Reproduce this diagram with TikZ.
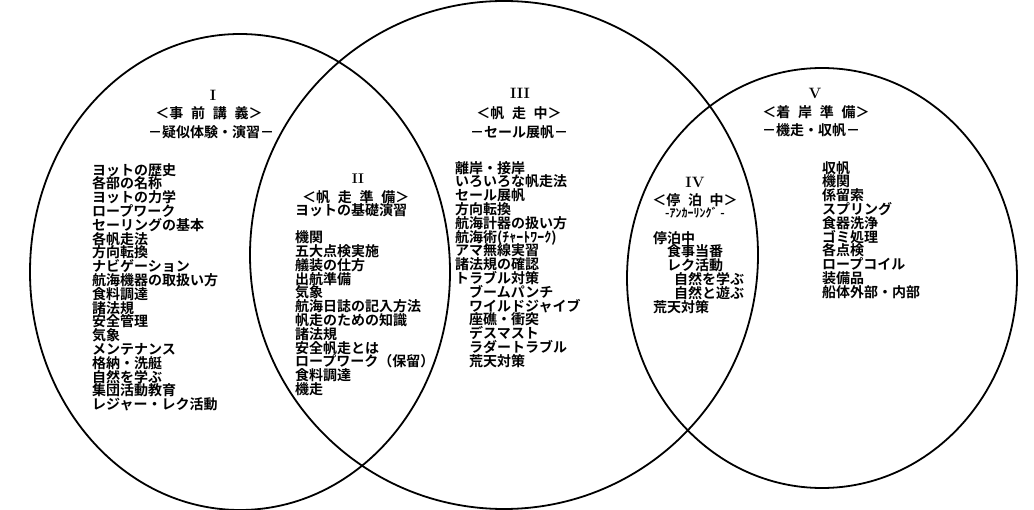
\documentclass[tikz,border=0pt]{standalone}
\usepackage{fontspec}
\newfontfamily\jpfont{Noto Sans CJK JP Bold}
\newcommand{\mylistfont}{\jpfont\fontsize{14}{13.8}\selectfont\lineskiplimit=-20pt\lineskip=0pt}
\newcommand{\myheadfont}{\jpfont\fontsize{14}{14}\selectfont}
\newcommand{\mysmallfont}{\jpfont\fontsize{12}{12}\selectfont}
\newcommand{\gap}{\hspace{0.55em}}
\begin{document}
\begin{tikzpicture}[x=1pt,y=-1pt,
  ring/.style={draw=black,line width=1.8pt},
  lst/.style={anchor=north west,inner sep=0pt,align=left,font=\mylistfont},
  hd/.style={inner sep=0pt,font=\myheadfont},
  sm/.style={inner sep=0pt,font=\mysmallfont},
  num/.style={inner sep=0pt,font=\fontsize{15}{15}\selectfont\bfseries}]
\useasboundingbox (0,0) rectangle (1034,510);
\fill[white] (0,0) rectangle (1034,510);
% circles
\draw[ring] (240,272) ellipse [x radius=210pt, y radius=238pt];
\draw[ring] (504,255) ellipse [x radius=254pt, y radius=254pt];
\draw[ring] (822,278) ellipse [x radius=195pt, y radius=210pt];
% I
\node[num] (n1) at (213,95) {I};
\node[hd] (h1) at (209,113) {＜事\gap 前\gap 講\gap 義＞};
\node[hd] (s1) at (211,132) {－疑似体験・演習－};
\node[lst] (l1) at (92,163) {ヨットの歴史\\各部の名称\\ヨットの力学\\ロープワーク\\セーリングの基本\\各帆走法\\方向転換\\ナビゲーション\\航海機器の取扱い方\\食料調達\\諸法規\\安全管理\\気象\\メンテナンス\\格納・洗艇\\自然を学ぶ\\集団活動教育\\レジャー・レク活動};
% II
\node[num,font=\fontsize{14}{14}\selectfont\bfseries] (n2) at (358,179) {II};
\node[hd,anchor=west] (h2) at (302,197) {＜帆\gap 走\gap 準\gap 備＞};
\node[lst] (l2) at (295,203) {ヨットの基礎演習\\\mbox{}\\機関\\五大点検実施\\艤装の仕方\\出航準備\\気象\\航海日誌の記入方法\\帆走のための知識\\諸法規\\安全帆走とは\\ロープワーク（保留）\\食料調達\\機走};
% III
\node[num] (n3) at (520,93) {III};
\node[hd] (h3) at (519,113) {＜帆\gap 走\gap 中＞};
\node[hd] (s3) at (519,132) {－セール展帆－};
\node[lst] (l3) at (455,161) {離岸・接岸\\いろいろな帆走法\\セール展帆\\方向転換\\航海計器の扱い方\\航海術(ﾁｬｰﾄﾜｰｸ)\\アマ無線実習\\諸法規の確認\\トラブル対策\\\hspace*{1em}ブームパンチ\\\hspace*{1em}ワイルドジャイブ\\\hspace*{1em}座礁・衝突\\\hspace*{1em}デスマスト\\\hspace*{1em}ラダートラブル\\\hspace*{1em}荒天対策};
% IV
\node[num] (n4) at (695,182) {IV};
\node[hd] (h4) at (695,200) {＜停\gap 泊\gap 中＞};
\node[sm] (s4) at (695,213) {-ｱﾝｶｰﾘﾝｸﾞ -};
\node[lst] (l4) at (653,231) {停泊中\\\hspace*{1em}食事当番\\\hspace*{1em}レク活動\\\hspace*{1.5em}自然を学ぶ\\\hspace*{1.5em}自然と遊ぶ\\荒天対策};
% V
\node[num] (n5) at (815,93) {V};
\node[hd] (h5) at (816,112) {＜着\gap 岸\gap 準\gap 備＞};
\node[hd] (s5) at (811,130) {－機走・収帆－};
\node[lst] (l5) at (822,161) {収帆\\機関\\係留索\\スプリング\\食器洗浄\\ゴミ処理\\各点検\\ロープコイル\\装備品\\船体外部・内部};
\end{tikzpicture}
\end{document}
